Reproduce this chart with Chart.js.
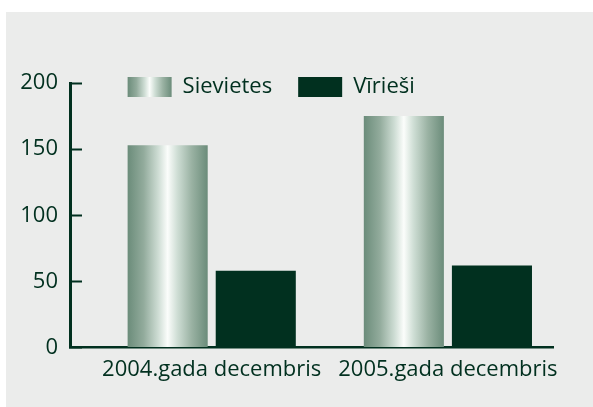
<!DOCTYPE html>
<html>
<head>
<meta charset="utf-8">
<script src="https://cdn.jsdelivr.net/npm/chart.js@4/dist/chart.umd.min.js"></script>
<style>
  html, body { margin: 0; padding: 0; background: #ffffff; }
  #panel { position: absolute; left: 6px; top: 12px; right: 0; bottom: 0; background: #ebeceb; }
  #c { position: absolute; left: 0; top: 0; }
</style>
</head>
<body>
<div id="panel"></div>
<canvas id="c" width="593" height="407"></canvas>
<script>
var categories = ["2004.gada decembris", "2005.gada decembris"];
var seriesNames = ["Sievietes", "Vīrieši"];
var women = [153, 175];
var men = [58, 62];
var yTicks = [0, 50, 100, 150, 200];

var dark = "#01301f";
var silver = "#9fb5a8";
var font = {family: "'Open Sans', sans-serif", size: 22};

// light band in the middle of the women's bars
function silverFill(ctx, x0, x1) {
    var g = ctx.createLinearGradient(x0, 0, x1, 0);
    g.addColorStop(0, "#6b8c7a");
    g.addColorStop(0.2, "#92ab9c");
    g.addColorStop(0.38, "#cddcd3");
    g.addColorStop(0.5, "#fbfdfb");
    g.addColorStop(0.62, "#cfded5");
    g.addColorStop(0.8, "#9ab2a3");
    g.addColorStop(1, "#6b8c7a");
    return g;
}

function points(values) {
    return values.map(function (v, i) { return {x: i, y: v}; });
}

var legendShift = {
    id: "legendShift",
    beforeInit: function (chart) {
        var legend = chart.legend;
        var fit = legend.fit;
        // legend sits over the plot, it takes no room in the layout
        legend.fit = function () {
            fit.call(this);
            this.height = 0;
        };
    },
    beforeDraw: function (chart) {
        var legend = chart.legend;
        var pad = legend.options.labels.padding;
        var bar = chart.getDatasetMeta(0).data[0];
        legend.left = bar.x - bar.width / 2 - pad;
        legend.top = chart.chartArea.top - 7 - pad;
        legend.bottom = legend.top + 70;
        var box = legend.options.labels.boxWidth;
        if (legend.legendItems && legend.legendItems[0]) {
            legend.legendItems[0].fillStyle = silverFill(chart.ctx, legend.left + pad, legend.left + pad + box);
        }
    },
    beforeDatasetsDraw: function (chart) {
        var meta = chart.getDatasetMeta(0);
        meta.data.forEach(function (bar) {
            var left = bar.x - bar.width / 2;
            bar.options = Object.assign({}, bar.options, {
                backgroundColor: silverFill(chart.ctx, left, left + bar.width)
            });
        });
    }
};

new Chart(document.getElementById("c"), {
    type: "bar",
    data: {
        datasets: [
            {label: seriesNames[0], data: points(women), backgroundColor: silver, borderWidth: 0},
            {label: seriesNames[1], data: points(men), backgroundColor: dark, borderWidth: 0}
        ]
    },
    options: {
        responsive: false,
        animation: false,
        categoryPercentage: 0.746,
        barPercentage: 0.909,
        layout: {padding: {left: 0, top: 83, right: 40, bottom: 15}},
        font: font,
        plugins: {
            tooltip: {enabled: false},
            legend: {
                position: "top",
                align: "start",
                labels: {
                    boxWidth: 44,
                    boxHeight: 20,
                    padding: 26,
                    color: dark,
                    font: font
                }
            }
        },
        scales: {
            x: {
                type: "linear",
                offset: false,
                min: -0.6,
                max: 1.445,
                grid: {drawOnChartArea: false, drawTicks: false},
                border: {color: dark, width: 2.5},
                afterBuildTicks: function (axis) {
                    axis.ticks = categories.map(function (c, i) { return {value: i}; });
                },
                ticks: {
                    autoSkip: false,
                    maxRotation: 0,
                    padding: 9,
                    color: dark,
                    font: font,
                    callback: function (v) { return categories[v]; }
                }
            },
            y: {
                min: yTicks[0],
                max: yTicks[yTicks.length - 1],
                afterFit: function (axis) { axis.width = 70; },
                afterBuildTicks: function (axis) {
                    axis.ticks = yTicks.map(function (v) { return {value: v}; });
                },
                grid: {drawOnChartArea: false, drawTicks: true, tickLength: -12, tickColor: dark, tickWidth: 2},
                border: {color: dark, width: 3},
                ticks: {
                    padding: 24,
                    color: dark,
                    font: font
                }
            }
        }
    },
    plugins: [legendShift]
});
</script>
</body>
</html>
